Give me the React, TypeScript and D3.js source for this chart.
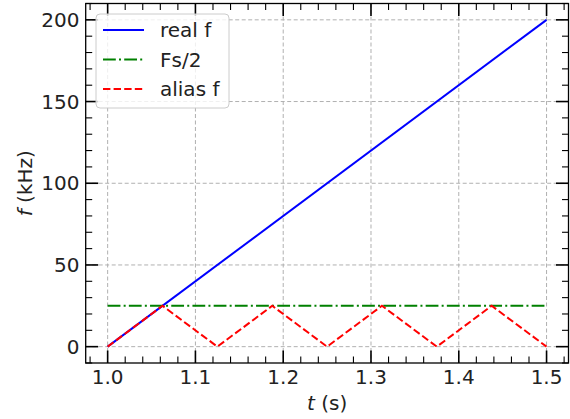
import React from "react";
import * as d3 from "d3";

const realT = [1.0, 1.5];
const realF = [0, 200];
const halfT = [1.0, 1.5];
const halfF = [25, 25];
const aliasT = [1.0, 1.0625, 1.125, 1.1875, 1.25, 1.3125, 1.375, 1.4375, 1.5];
const aliasF = [0, 25, 0, 25, 0, 25, 0, 25, 0];
const xTicks = [1.0, 1.1, 1.2, 1.3, 1.4, 1.5];
const yTicks = [0, 50, 100, 150, 200];
const legendLabels = ["real f", "Fs/2", "alias f"];

const W = 570, H = 419;
const L = 85.7, R = 568.5, T = 3.5, B = 363;
const FONT = "DejaVu Sans, sans-serif";
const FS = 20;

export default function App() {
  const x = d3.scaleLinear().domain([0.975, 1.525]).range([L, R]);
  const y = d3.scaleLinear().domain([-10, 210]).range([B, T]);
  const line = d3.line<[number, number]>().x(d => x(d[0])).y(d => y(d[1]));
  const zip = (a: number[], b: number[]) => a.map((v, i) => [v, b[i]] as [number, number]);

  const xMinor = d3.range(0.98, 1.521, 0.02).filter(v => !xTicks.some(t => Math.abs(t - v) < 1e-6));
  const yMinor = d3.range(-10, 211, 10).filter(v => v % 50 !== 0);
  const major = 12.5, minor = 6.5;

  const series = [
    { d: zip(realT, realF), color: "#0000ff", dash: "none" },
    { d: zip(halfT, halfF), color: "#008000", dash: "12.8,3.2,2,3.2" },
    { d: zip(aliasT, aliasF), color: "#ff0000", dash: "7.4,3.2" },
  ];

  return (
    <svg width={W} height={H} style={{ position: "absolute", left: 0, top: 0, background: "#fff" }} fontFamily={FONT}>
      <rect x={0} y={0} width={W} height={H} fill="#fff" />
      {xTicks.map(t => (
        <line key={"gx" + t} x1={x(t)} x2={x(t)} y1={T} y2={B} stroke="#b0b0b0" strokeWidth={1} strokeDasharray="4,2.5" />
      ))}
      {yTicks.map(t => (
        <line key={"gy" + t} x1={L} x2={R} y1={y(t)} y2={y(t)} stroke="#b0b0b0" strokeWidth={1} strokeDasharray="4,2.5" />
      ))}
      {series.map((s, i) => (
        <path key={i} d={line(s.d) || ""} fill="none" stroke={s.color} strokeWidth={2} strokeDasharray={s.dash} />
      ))}
      {xTicks.map(t => (
        <g key={"tx" + t}>
          <line x1={x(t)} x2={x(t)} y1={B} y2={B - major} stroke="#000" strokeWidth={1.6} />
          <line x1={x(t)} x2={x(t)} y1={T} y2={T + major} stroke="#000" strokeWidth={1.6} />
          <text x={x(t)} y={383.5} textAnchor="middle" fontSize={FS} fill="#222">{t.toFixed(1)}</text>
        </g>
      ))}
      {xMinor.map(t => (
        <g key={"mx" + t}>
          <line x1={x(t)} x2={x(t)} y1={B} y2={B - minor} stroke="#000" strokeWidth={1.1} />
          <line x1={x(t)} x2={x(t)} y1={T} y2={T + minor} stroke="#000" strokeWidth={1.1} />
        </g>
      ))}
      {yTicks.map(t => (
        <g key={"ty" + t}>
          <line x1={L} x2={L + major} y1={y(t)} y2={y(t)} stroke="#000" strokeWidth={1.6} />
          <line x1={R} x2={R - major} y1={y(t)} y2={y(t)} stroke="#000" strokeWidth={1.6} />
          <text x={79.5} y={y(t)} dy="0.36em" textAnchor="end" fontSize={FS} fill="#222">{t}</text>
        </g>
      ))}
      {yMinor.map(t => (
        <g key={"my" + t}>
          <line x1={L} x2={L + minor} y1={y(t)} y2={y(t)} stroke="#000" strokeWidth={1.1} />
          <line x1={R} x2={R - minor} y1={y(t)} y2={y(t)} stroke="#000" strokeWidth={1.1} />
        </g>
      ))}
      <rect x={L} y={T} width={R - L} height={B - T} fill="none" stroke="#000" strokeWidth={1.3} />
      <rect x={96} y={14} width={133} height={94} rx={4} fill="#fff" fillOpacity={0.8} stroke="#cccccc" strokeWidth={1} />
      {series.map((s, i) => {
        const cy = 30 + i * 29.5;
        return (
          <g key={"lg" + i}>
            <line x1={103} x2={144} y1={cy} y2={cy} stroke={s.color} strokeWidth={2} strokeDasharray={s.dash} />
            <text x={160} y={cy} dy="0.36em" fontSize={FS} fill="#222">{legendLabels[i]}</text>
          </g>
        );
      })}
      <text x={(L + R) / 2} y={410} textAnchor="middle" fontSize={FS} fill="#222">
        <tspan fontStyle="italic">t</tspan> (s)
      </text>
      <text transform={`translate(32,${(T + B) / 2}) rotate(-90)`} textAnchor="middle" fontSize={FS} fill="#222">
        <tspan fontStyle="italic">f</tspan> (kHz)
      </text>
    </svg>
  );
}
